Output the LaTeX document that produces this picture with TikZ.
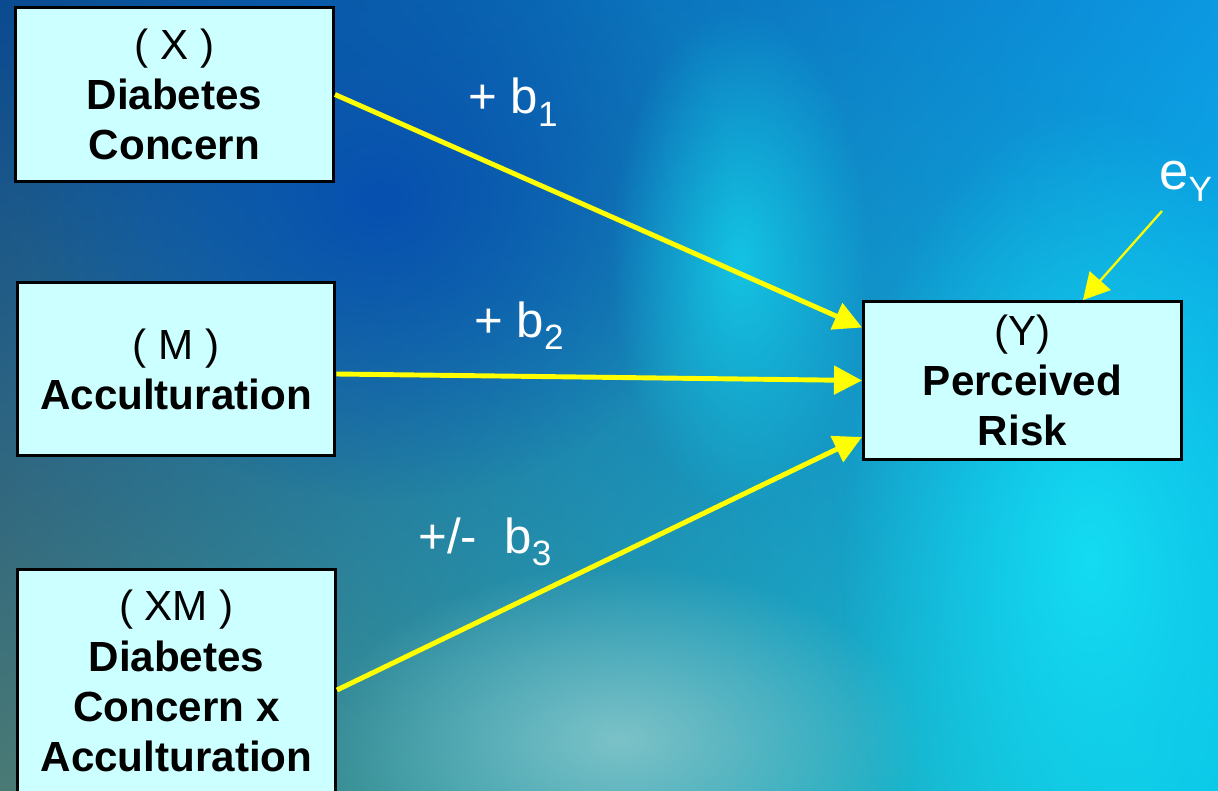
\documentclass[tikz,border=0pt]{standalone}
\usepackage{fontspec}
\setmainfont{Liberation Sans}
\usetikzlibrary{arrows.meta,fadings,shadings}
\definecolor{boxcyan}{HTML}{CCFFFF}
\definecolor{pathyel}{HTML}{FFFF00}
\definecolor{bgul}{HTML}{0A4A90}
\definecolor{bgur}{HTML}{0C98E2}
\definecolor{bgll}{HTML}{4A7A74}
\definecolor{bglr}{HTML}{08C4E6}
\definecolor{glowcyan}{HTML}{14DCF2}
\definecolor{glowteal}{HTML}{7CC2C8}
\definecolor{glowdeep}{HTML}{0650B0}
\tikzfading[name=glowfade,inner color=transparent!0,outer color=transparent!100]
\newcommand\coefsub[2][0.27cm]{\raisebox{-#1}{\fontsize{20}{24}\selectfont #2}}

\begin{document}
\begin{tikzpicture}[x=0.02cm,y=-0.02cm,
  varbox/.style={draw=black,line width=1.7pt,fill=boxcyan,align=center,
    inner sep=0pt,minimum width=6.36cm,font=\fontsize{24}{28.5}\selectfont},
  effect/.style={pathyel,line width=2.8pt,-{Triangle[length=0.56cm,width=0.56cm]}},
  errarrow/.style={pathyel,line width=1.3pt,-{Triangle[length=0.52cm,width=0.56cm]}},
  coef/.style={white,anchor=base west,inner sep=0pt,font=\fontsize{28}{32}\selectfont}]

  \useasboundingbox (0,0) rectangle (1218,791);
  \clip (0,0) rectangle (1218,791);

  % ===== BACKGROUND =====
  \shade[upper left=bgul,upper right=bgur,lower left=bgll,lower right=bglr]
        (0,0) rectangle (1218,791);
  \fill[glowdeep,path fading=glowfade] (380,200) ellipse [x radius=7cm,y radius=6cm];
  \fill[glowcyan,path fading=glowfade,opacity=0.7] (740,260) ellipse [x radius=2.6cm,y radius=5cm];
  \fill[glowcyan,path fading=glowfade] (1090,560) ellipse [x radius=5cm,y radius=9cm];
  \fill[glowteal,path fading=glowfade] (620,740) ellipse [x radius=6cm,y radius=3.5cm];

  % ===== VARIABLES =====
  \node[varbox,minimum height=3.48cm] (concern) at (174.5,94.5)
        {( X )\\\textbf{Diabetes}\\\textbf{Concern}};
  \node[varbox,minimum height=3.46cm] (accult) at (176,369)
        {( M )\\\textbf{Acculturation}};
  \node[varbox,minimum height=4.46cm] (inter) at (176.5,681)
        {( XM )\\\textbf{Diabetes}\\\textbf{Concern x}\\\textbf{Acculturation}};
  \node[varbox,minimum height=3.16cm] (risk) at (1022.5,380.5)
        {(Y)\\\textbf{Perceived}\\\textbf{Risk}};

  % ===== PATHS =====
  \draw[effect] (concern.east) -- ([yshift=1.06cm]risk.west);
  \draw[effect] ([yshift=-0.1cm]accult.east) -- (risk.west);
  \draw[effect] ([yshift=-0.18cm]inter.east) -- ([yshift=-1.13cm]risk.west);

  \node[coef] (b1) at (468,113) {+ b\coefsub{1}};
  \node[coef] (b2) at (474,337) {+ b\coefsub[0.26cm]{2}};
  \node[coef] (b3) at (418,553) {+/-\hspace{0.55cm}b\coefsub[0.24cm]{3}};

  % ===== ERROR TERM =====
  \node[coef,font=\fontsize{30}{34}\selectfont] (eY) at (1159,189) {e\coefsub[0.26cm]{Y}};
  \coordinate (eYtail) at (1162,211);
  \draw[errarrow] (eYtail) -- ([xshift=1.21cm]risk.north);

\end{tikzpicture}
\end{document}
